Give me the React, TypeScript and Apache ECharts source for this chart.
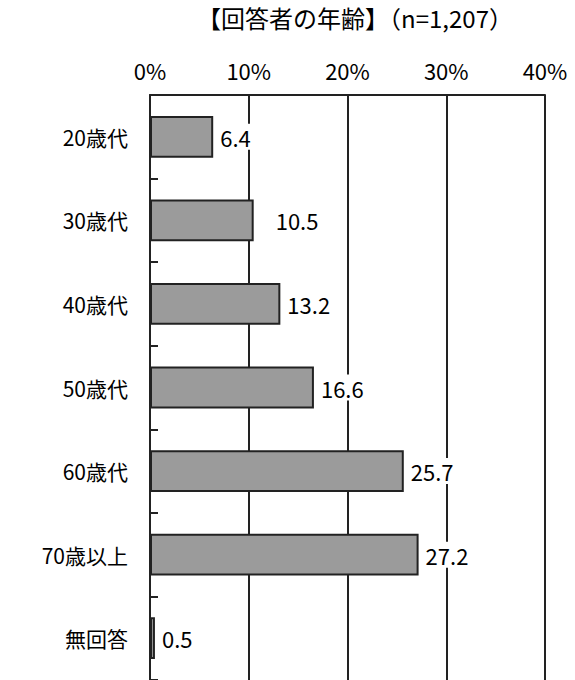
import React, { useEffect, useRef } from "react";
import * as echarts from "echarts";

const categories = ["20歳代", "30歳代", "40歳代", "50歳代", "60歳代", "70歳以上", "無回答"];
const values = [6.4, 10.5, 13.2, 16.6, 25.7, 27.2, 0.5];
const labelOffsets = [5, 20, 5, 5, 5, 5, 5];
const titleText = "【回答者の年齢】（n=1,207）";

const FONT = "'Noto Sans CJK JP', 'Noto Sans', sans-serif";

export default function App() {
  const ref = useRef<HTMLDivElement>(null);
  useEffect(() => {
    if (!ref.current) return;
    const chart = echarts.init(ref.current, null, { renderer: "svg" });
    chart.setOption({
      animation: false,
      backgroundColor: "#fff",
      title: {
        text: titleText,
        left: 350,
        top: 0,
        textAlign: "center",
        textStyle: { fontFamily: FONT, fontSize: 24, fontWeight: "normal", color: "#000" },
      },
      grid: { left: 150, top: 95, width: 395, height: 588, containLabel: false },
      xAxis: {
        type: "value",
        position: "top",
        min: 0,
        max: 40,
        interval: 10,
        axisLine: { show: true, lineStyle: { color: "#222", width: 2 } },
        axisTick: { show: false },
        axisLabel: {
          formatter: "{value}%",
          margin: 14,
          fontFamily: FONT,
          fontSize: 22,
          color: "#000",
        },
        splitLine: { show: true, lineStyle: { color: "#222", width: 2 } },
      },
      yAxis: {
        type: "category",
        inverse: true,
        data: categories,
        axisLine: { show: true, lineStyle: { color: "#222", width: 2 } },
        axisTick: { show: true, inside: true, length: 8, lineStyle: { color: "#222", width: 2 } },
        axisLabel: { margin: 22, fontFamily: FONT, fontSize: 21, color: "#000" },
      },
      series: [
        {
          type: "bar",
          barWidth: "50%",
          data: values.map((v, i) => ({
            value: v,
            label: { distance: labelOffsets[i] },
          })),
          itemStyle: { color: "#9b9b9b", borderColor: "#222", borderWidth: 2 },
          label: {
            show: true,
            position: "right",
            formatter: (p: any) => Number(p.value).toFixed(1),
            fontFamily: FONT,
            fontSize: 22,
            color: "#000",
            backgroundColor: "#fff",
            padding: [2, 2],
          },
        },
      ],
    });
    return () => chart.dispose();
  }, []);
  return (
    <div
      ref={ref}
      style={{ position: "fixed", left: 0, top: 0, width: 575, height: 680 }}
    />
  );
}
